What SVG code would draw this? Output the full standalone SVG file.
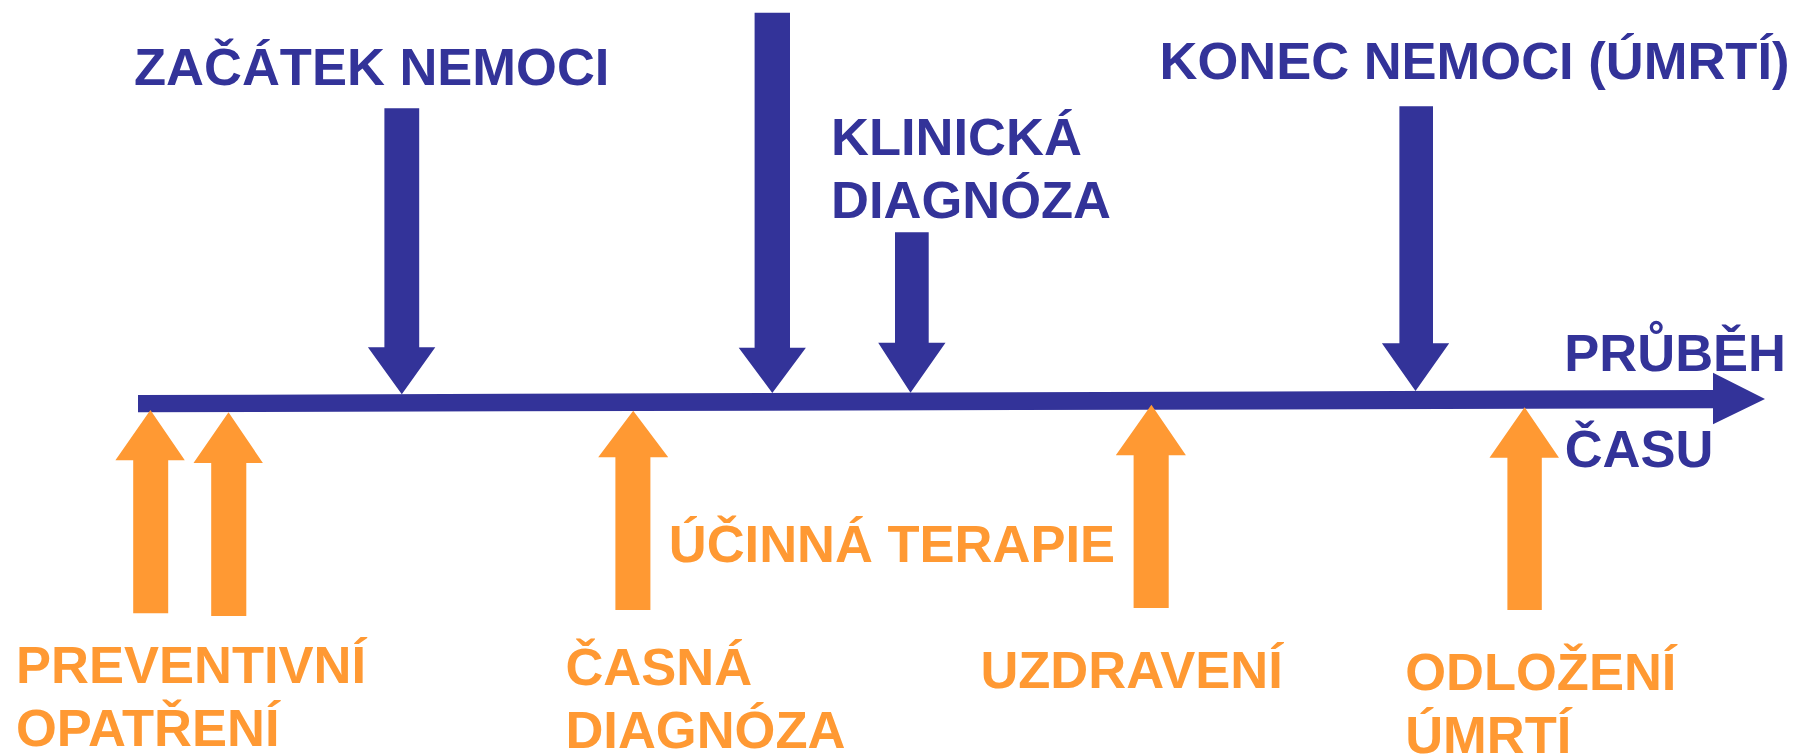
<svg xmlns="http://www.w3.org/2000/svg" width="1800" height="755" viewBox="0 0 1800 755">
<style>
.t{font-family:"Liberation Sans",Arial,sans-serif;font-weight:bold;font-size:52.5px}
.n{fill:#333399}
.o{fill:#FF9933}
</style>
<rect width="1800" height="755" fill="#ffffff"/>
<g id="connectors">
<polygon id="time-axis" class="n" points="138,395 1713,390 1713,372.7 1765,399 1713,424.3 1713,408.3 138,412.3"/>
</g>
<g id="zacatek-nemoci">
<polygon class="n" points="384.4,108.3 419.2,108.3 419.2,347.3 435.3,347.3 401.8,394.3 367.9,347.3 384.4,347.3"/>
<text class="t n" x="134" y="85">ZAČÁTEK NEMOCI</text>
</g>
<g id="unlabeled-arrow">
<polygon class="n" points="754.6,12.7 790,12.7 790,347.7 805.9,347.7 772.3,393 738.7,347.7 754.6,347.7"/>
</g>
<g id="klinicka-diagnoza">
<polygon class="n" points="895,232.3 928.7,232.3 928.7,342.7 945.5,342.7 910.5,392.7 878.2,342.7 895,342.7"/>
<text class="t n" x="831" y="155">KLINICKÁ</text>
<text class="t n" x="831" y="218.3">DIAGNÓZA</text>
</g>
<g id="konec-nemoci">
<polygon class="n" points="1399.4,106.3 1433,106.3 1433,343.3 1449.2,343.3 1415.5,391 1381.9,343.3 1399.4,343.3"/>
<text class="t n" x="1159.5" y="79.3">KONEC NEMOCI (ÚMRTÍ)</text>
</g>
<g id="prubeh-casu">
<text class="t n" x="1564.3" y="371">PRŮBĚH</text>
<text class="t n" x="1564.7" y="466.7">ČASU</text>
</g>
<g id="preventivni-opatreni">
<polygon class="o" points="150.4,410 184.8,460.3 168.2,460.3 168.2,613.3 133.2,613.3 133.2,460.3 115.4,460.3"/>
<polygon class="o" points="228.5,412.3 262.9,463 246.3,463 246.3,616 211.2,616 211.2,463 193.5,463"/>
<text class="t o" x="16" y="682.7">PREVENTIVNÍ</text>
<text class="t o" x="16" y="746">OPATŘENÍ</text>
</g>
<g id="casna-diagnoza">
<polygon class="o" points="633.2,410.7 668.2,457.3 650.4,457.3 650.4,610 615.4,610 615.4,457.3 598.2,457.3"/>
<text class="t o" x="565.4" y="685">ČASNÁ</text>
<text class="t o" x="565.4" y="748.3">DIAGNÓZA</text>
</g>
<g id="ucinna-terapie">
<text class="t o" x="668.8" y="562.3">ÚČINNÁ TERAPIE</text>
</g>
<g id="uzdraveni">
<polygon class="o" points="1151.4,404.7 1185.9,455.3 1168.7,455.3 1168.7,608 1133.6,608 1133.6,455.3 1115.8,455.3"/>
<text class="t o" x="980.4" y="688.3">UZDRAVENÍ</text>
</g>
<g id="odlozeni-umrti">
<polygon class="o" points="1524.6,407.3 1559,457.7 1541.8,457.7 1541.8,610 1507.4,610 1507.4,457.7 1489.5,457.7"/>
<text class="t o" x="1405.2" y="690">ODLOŽENÍ</text>
<text class="t o" x="1405.2" y="752.7">ÚMRTÍ</text>
</g>
</svg>
